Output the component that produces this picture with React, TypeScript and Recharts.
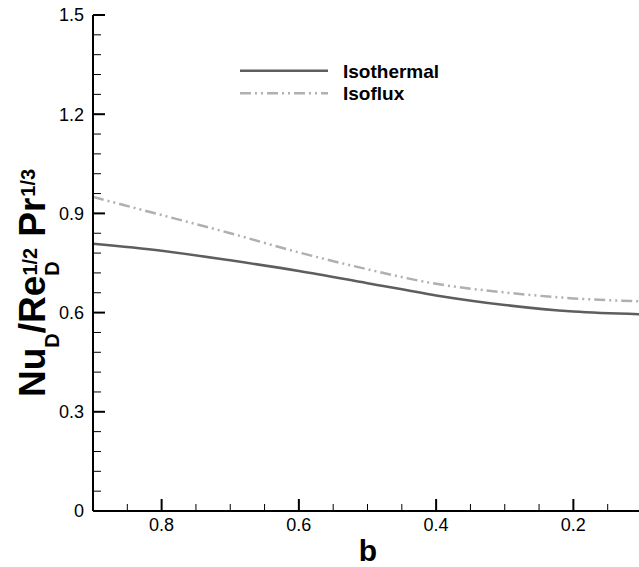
import React from "react";
import { LineChart, Line, XAxis, YAxis, Legend } from "recharts";

const bValues = [0.9, 0.8, 0.7, 0.6, 0.5, 0.4, 0.3, 0.2, 0.1];
const isothermal = [0.808, 0.787, 0.758, 0.726, 0.689, 0.652, 0.623, 0.603, 0.595];
const isoflux = [0.95, 0.895, 0.84, 0.782, 0.731, 0.687, 0.661, 0.643, 0.634];

const xMajorTicks = [0.8, 0.6, 0.4, 0.2];
const xMinorTicks = [0.85, 0.75, 0.7, 0.65, 0.55, 0.5, 0.45, 0.35, 0.3, 0.25, 0.15];
const yMajorTicks = [0, 0.3, 0.6, 0.9, 1.2, 1.5];
const yMinorTicks = [
  0.06, 0.12, 0.18, 0.24, 0.36, 0.42, 0.48, 0.54, 0.66, 0.72, 0.78, 0.84,
  0.96, 1.02, 1.08, 1.14, 1.26, 1.32, 1.38, 1.44,
];
const seriesNames = ["Isothermal", "Isoflux"];

const data = bValues.map((b, i) => ({ b, isothermal: isothermal[i], isoflux: isoflux[i] }));

const FONT = "'Liberation Sans', Arial, Helvetica, sans-serif";
const ISOTHERMAL_COLOR = "#5e5e5e";
const ISOFLUX_COLOR = "#b0b0b0";
const DASH = "11 4 2 4 2 4";

const fmt = (v: number) => (v === 0 ? "0" : String(v));

const XTick = (props: any) => {
  const { x, y, payload } = props;
  const major = xMajorTicks.includes(payload.value);
  return (
    <g>
      <line x1={x} y1={y} x2={x} y2={y - (major ? 12 : 7)} stroke="#000" strokeWidth={major ? 2 : 1} />
      {major && (
        <text x={x} y={y + 7} dy="0.71em" textAnchor="middle" fontFamily={FONT} fontSize={18} fill="#000">
          {fmt(payload.value)}
        </text>
      )}
    </g>
  );
};

const YTick = (props: any) => {
  const { x, y, payload } = props;
  const major = yMajorTicks.includes(payload.value);
  return (
    <g>
      <line x1={x} y1={y} x2={x + (major ? 12 : 8)} y2={y} stroke="#000" strokeWidth={major ? 2 : 1} />
      {major && (
        <text x={x - 9} y={y} dy="0.355em" textAnchor="end" fontFamily={FONT} fontSize={18} fill="#000">
          {fmt(payload.value)}
        </text>
      )}
    </g>
  );
};

const YLabel = () => (
  <text
    transform="translate(45,397) rotate(-90)"
    x={0}
    y={0}
    fontFamily={FONT}
    fontWeight="bold"
    fontSize={37}
    fill="#000"
  >
    <tspan>Nu</tspan>
    <tspan fontSize={20} dy={14}>D</tspan>
    <tspan dy={-14}>/Re</tspan>
    <tspan fontSize={20} dy={14}>D</tspan>
    <tspan fontSize={20} dx={-14.4} dy={-22}>1/2</tspan>
    <tspan dx={11} dy={8}>Pr</tspan>
    <tspan fontSize={20} dx={1} dy={-10}>1/3</tspan>
  </text>
);

const XLabel = () => (
  <text x={368} y={561} textAnchor="middle" fontFamily={FONT} fontWeight="bold" fontSize={30} fill="#000">
    b
  </text>
);

const LegendContent = () => (
  <svg width={240} height={50} style={{ display: "block" }}>
    <line x1={2} y1={12.7} x2={90} y2={12.7} stroke={ISOTHERMAL_COLOR} strokeWidth={2.5} />
    <text x={105} y={20} fontFamily={FONT} fontWeight="bold" fontSize={19} fill="#000">
      {seriesNames[0]}
    </text>
    <line x1={2} y1={35.3} x2={90} y2={35.3} stroke={ISOFLUX_COLOR} strokeWidth={2.5} strokeDasharray={DASH} />
    <text x={105} y={42} fontFamily={FONT} fontWeight="bold" fontSize={19} fill="#000">
      {seriesNames[1]}
    </text>
  </svg>
);

export default function App() {
  return (
    <div
      style={{
        position: "fixed",
        left: 0,
        top: 0,
        width: 639,
        height: 567,
        overflow: "hidden",
        background: "#fff",
      }}
    >
      <LineChart width={660} height={567} data={data} margin={{ top: 15, right: 18, bottom: 0, left: 33 }}>
        <XAxis
          dataKey="b"
          type="number"
          domain={[0.1, 0.9]}
          reversed
          ticks={[...xMajorTicks, ...xMinorTicks]}
          interval={0}
          tickSize={0}
          tickMargin={0}
          tick={XTick}
          height={56}
          axisLine={{ stroke: "#000", strokeWidth: 2 }}
          tickLine={false}
          label={<XLabel />}
        />
        <XAxis
          xAxisId="top"
          dataKey="b"
          type="number"
          domain={[0.1, 0.9]}
          reversed
          orientation="top"
          height={0}
          tick={false}
          tickLine={false}
          axisLine={{ stroke: "#000", strokeWidth: 2 }}
        />
        <YAxis
          type="number"
          domain={[0, 1.5]}
          ticks={[...yMajorTicks, ...yMinorTicks]}
          interval={0}
          tickSize={0}
          tickMargin={0}
          tick={YTick}
          width={60}
          axisLine={{ stroke: "#000", strokeWidth: 2 }}
          tickLine={false}
          label={<YLabel />}
        />
        <Legend
          layout="vertical"
          align="center"
          verticalAlign="middle"
          content={<LegendContent />}
          wrapperStyle={{ left: 238, top: 58, width: 240, height: 50 }}
        />
        <Line
          type="monotone"
          dataKey="isothermal"
          name={seriesNames[0]}
          stroke={ISOTHERMAL_COLOR}
          strokeWidth={2.5}
          dot={false}
          isAnimationActive={false}
        />
        <Line
          type="monotone"
          dataKey="isoflux"
          name={seriesNames[1]}
          stroke={ISOFLUX_COLOR}
          strokeWidth={2.5}
          strokeDasharray={DASH}
          dot={false}
          isAnimationActive={false}
        />
      </LineChart>
    </div>
  );
}
